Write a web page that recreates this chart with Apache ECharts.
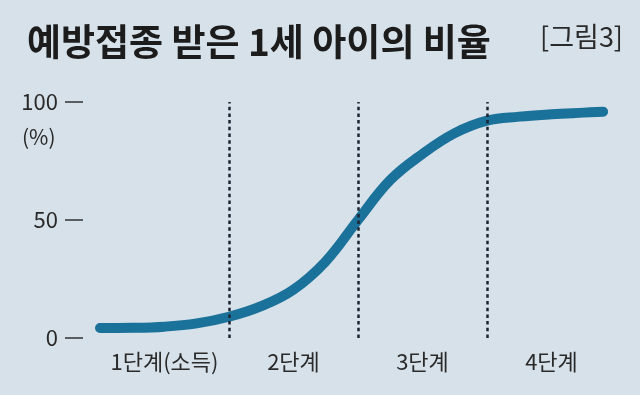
<!DOCTYPE html>
<html>
<head>
<meta charset="utf-8">
<script src="https://cdn.jsdelivr.net/npm/echarts@6/dist/echarts.min.js"></script>
<style>
html,body{margin:0;padding:0;background:#d6e1e9;}
#c{width:640px;height:395px;}
</style>
</head>
<body>
<div id="c"></div>
<script>
// Data
const titleText = '예방접종 받은 1세 아이의 비율';
const figureTag = '[그림3]';
const unitLabel = '(%)';
const stageLabels = ['1단계(소득)', '2단계', '3단계', '4단계'];
const stageBoundaries = [1, 2, 3];
const incomeX = [0, 0.25, 0.5, 0.75, 1.0, 1.25, 1.5, 1.75, 2.0, 2.25, 2.5, 2.75, 3.0, 3.25, 3.5, 3.75, 3.9];
const rateY   = [4.2, 4.3, 4.8, 6.2, 9.0, 13.5, 20.5, 32.5, 50, 66.9, 78, 86.8, 92.1, 93.8, 94.8, 95.5, 95.9];
const yTicks = [0, 50, 100];

const FONT = '"Noto Sans CJK KR", "Noto Sans", sans-serif';
const chart = echarts.init(document.getElementById('c'), null, {renderer: 'canvas'});
const seriesData = incomeX.map((x, i) => [x, rateY[i]]);

chart.setOption({
  backgroundColor: '#d6e1e9',
  animation: false,
  grid: [
    {left: 83, right: 24, top: 102, bottom: 57},
    {left: 100, right: 24, top: 102, bottom: 57}
  ],
  graphic: [
    {type: 'text', x: 27, y: 42,
     style: {text: titleText, fontSize: 37, fontWeight: 'bold', fontFamily: FONT, fill: '#1c1c1c',
             textAlign: 'left', textVerticalAlign: 'middle'}},
    {type: 'text', x: 623, y: 37,
     style: {text: figureTag, fontSize: 27, fontWeight: 'normal', fontFamily: FONT, fill: '#2a2a2a',
             textAlign: 'right', textVerticalAlign: 'middle'}},
    {type: 'text', x: 22, y: 137,
     style: {text: unitLabel, fontSize: 21, fontFamily: FONT, fill: '#2a2a2a',
             textAlign: 'left', textVerticalAlign: 'middle'}}
  ],
  xAxis: [
    {type: 'value', gridIndex: 0, min: 0, max: 4, show: false},
    {type: 'value', gridIndex: 1, min: 0, max: 4, show: false},
    {type: 'category', gridIndex: 1, data: stageLabels, position: 'bottom', boundaryGap: true,
     axisLine: {show: false}, axisTick: {show: false}, splitLine: {show: false},
     axisLabel: {fontSize: 22, color: '#2a2a2a', fontFamily: FONT, margin: 13, interval: 0}}
  ],
  yAxis: [
    {type: 'value', gridIndex: 0, min: 0, max: 100, interval: 50,
     axisLine: {show: false},
     axisTick: {show: true, length: 18, lineStyle: {color: '#333', width: 1.5}},
     splitLine: {show: false},
     axisLabel: {fontSize: 22, color: '#2a2a2a', fontFamily: FONT, margin: 25, customValues: yTicks}},
    {type: 'value', gridIndex: 1, min: 0, max: 100, show: false}
  ],
  series: [{
    type: 'line',
    xAxisIndex: 1,
    yAxisIndex: 1,
    data: seriesData,
    smooth: 0.4,
    symbol: 'none',
    lineStyle: {color: '#1a7199', width: 10, cap: 'round', join: 'round'},
    markLine: {
      silent: true,
      symbol: 'none',
      label: {show: false},
      lineStyle: {color: '#1c2433', type: [3.5, 3.2], width: 2.5},
      data: stageBoundaries.map(v => ({xAxis: v}))
    },
    z: 3
  }]
});
</script>
</body>
</html>
